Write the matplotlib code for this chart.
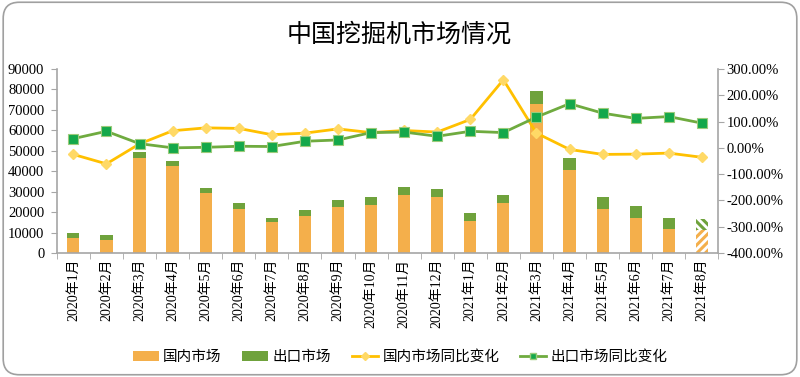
import matplotlib
matplotlib.use("Agg")
import matplotlib.pyplot as plt
from matplotlib.patches import FancyBboxPatch
from matplotlib.ticker import FuncFormatter, MultipleLocator
from matplotlib.lines import Line2D
from matplotlib.patches import Patch

plt.rcParams['font.family'] = ['Liberation Serif', 'Noto Sans CJK SC', 'DejaVu Sans']
plt.rcParams['hatch.linewidth'] = 2.2

months = ["2020年1月", "2020年2月", "2020年3月", "2020年4月", "2020年5月", "2020年6月",
          "2020年7月", "2020年8月", "2020年9月", "2020年10月", "2020年11月", "2020年12月",
          "2021年1月", "2021年2月", "2021年3月", "2021年4月", "2021年5月", "2021年6月",
          "2021年7月", "2021年8月"]
domestic = [7326, 6296, 46284, 42640, 29300, 21617, 15021, 17998, 22585, 23504, 28200, 27271,
            15800, 24636, 72977, 40614, 21527, 16993, 11872, 11202]
export = [2631, 2697, 3124, 2349, 2635, 2712, 2291, 2941, 3449, 3655, 4000, 3828,
          3800, 3669, 6058, 5876, 5693, 6107, 5473, 5651]
domestic_yoy = [-25, -61, 15, 65, 76, 74, 50, 56, 72, 58, 66, 60,
                108, 259, 56, -6, -25, -24, -20, -36]
export_yoy = [35, 63, 16, 0, 2, 6, 5, 25, 30, 58, 60, 44,
              63, 58, 117, 168, 132, 112, 119, 94]

series_names = ["国内市场", "出口市场", "国内市场同比变化", "出口市场同比变化"]
title = "中国挖掘机市场情况"

c_dom = "#F4AF4B"
c_exp = "#6FA23C"
c_dline = "#FFC000"
c_dmark = "#FFD966"
c_eline = "#6FAB3F"
c_emark = "#14A84A"
spine_c = "#A6A6A6"

fig = plt.figure(figsize=(8, 3.77), dpi=100)
border = FancyBboxPatch((0.004, 0.006), 0.992, 0.988, boxstyle="round,pad=0,rounding_size=0.02",
                        transform=fig.transFigure, facecolor="none", edgecolor="#A0A0A0",
                        linewidth=1.2, mutation_aspect=800/377, zorder=-1)
fig.patches.append(border)

ax = fig.add_axes([0.071, 0.329, 0.827, 0.488])
ax.patch.set_alpha(0)
x = list(range(len(months)))
w = 0.37
b1 = ax.bar(x, domestic, width=w, color=c_dom, linewidth=0, zorder=2)
b2 = ax.bar(x, export, width=w, bottom=domestic, color=c_exp, linewidth=0, zorder=2)
# last month hatched (preliminary)
for bars, col, h in ((b1, c_dom, "////"), (b2, c_exp, "\\\\\\\\")):
    p = bars[-1]
    p.set_facecolor("none")
    p.set_edgecolor(col)
    p.set_hatch(h)
    p.set_linewidth(0)

ax.set_xlim(-0.5, len(months) - 0.5)
ax.set_ylim(0, 90000)
ax.yaxis.set_major_locator(MultipleLocator(10000))
ax.set_xticks(x)
ax.set_xticklabels(months, rotation=90, fontsize=10)
ax.set_xticks([i - 0.5 for i in range(len(months) + 1)], minor=True)
ax.tick_params(axis='x', which='major', length=0, pad=4)
ax.tick_params(axis='x', which='minor', length=4, color=spine_c)
ax.tick_params(axis='y', length=4, color=spine_c, labelsize=10.5, pad=5)
for s in ("top", "right"):
    ax.spines[s].set_visible(False)
for s in ("left", "bottom"):
    ax.spines[s].set_color(spine_c)
    ax.spines[s].set_linewidth(1.2)

ax2 = ax.twinx()
ax2.plot(x, domestic_yoy, color=c_dline, lw=2, marker="D", ms=5, mfc=c_dmark, mec=c_dmark, zorder=3)
ax2.plot(x, export_yoy, color=c_eline, lw=2, marker="s", ms=6.5, mfc=c_emark, mec="#9CCB7A", mew=0.8, zorder=4)
ax2.set_ylim(-400, 300)
ax2.yaxis.set_major_locator(MultipleLocator(100))
ax2.yaxis.set_major_formatter(FuncFormatter(lambda v, p: f"{v:.2f}%"))
ax2.tick_params(axis='y', length=4, color=spine_c, labelsize=10.5, pad=2)
for s in ("top", "left", "bottom"):
    ax2.spines[s].set_visible(False)
ax2.spines["right"].set_color(spine_c)
ax2.spines["right"].set_linewidth(1.2)

fig.text(0.499, 0.907, title, ha="center", va="center", fontsize=18,
         family=["Noto Sans CJK SC", "DejaVu Sans"])

handles = [Patch(facecolor=c_dom, edgecolor="none"),
           Patch(facecolor=c_exp, edgecolor="none"),
           Line2D([], [], color=c_dline, lw=2, marker="D", ms=4, mfc=c_dmark, mec=c_dmark),
           Line2D([], [], color=c_eline, lw=2, marker="s", ms=5, mfc=c_emark, mec="#9CCB7A")]
fig.legend(handles, series_names, loc="center", bbox_to_anchor=(0.5, 0.053), ncol=4,
           frameon=False, handlelength=1.8, handletextpad=0.3, columnspacing=1.4,
           prop={"family": ["Noto Sans CJK SC", "DejaVu Sans"], "size": 10.5})

fig.savefig("out.png", dpi=100)
